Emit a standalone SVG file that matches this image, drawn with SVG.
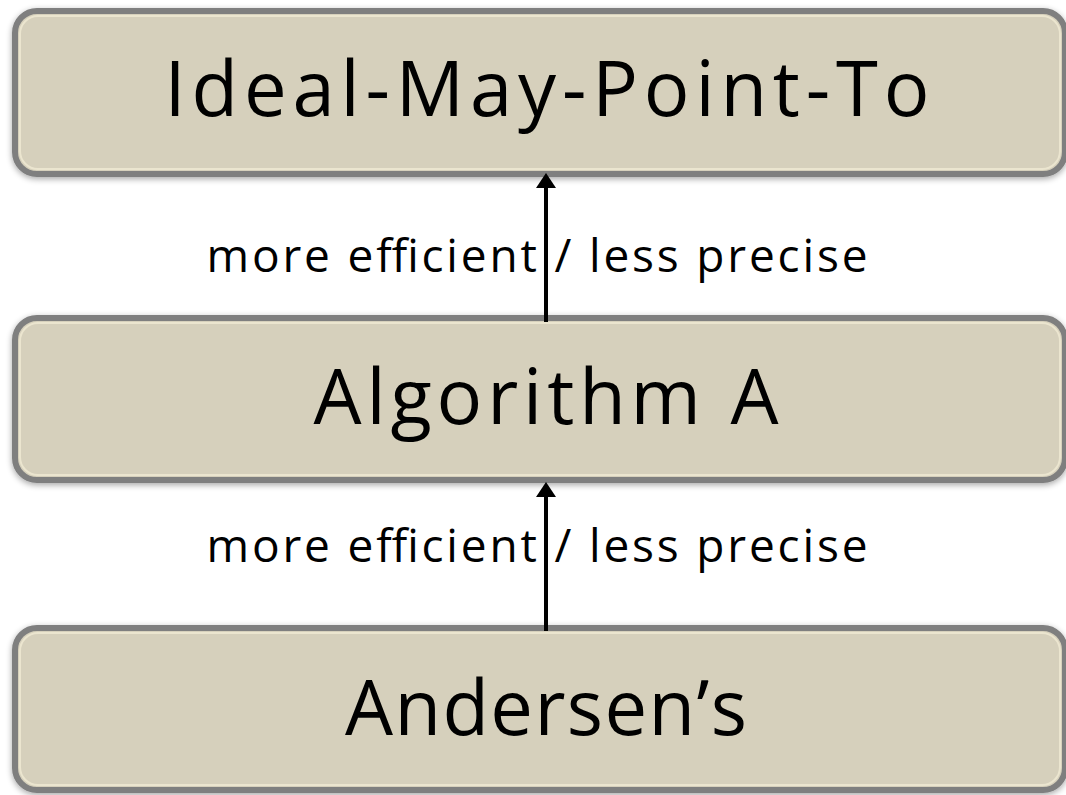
<svg xmlns="http://www.w3.org/2000/svg" width="1066" height="795" viewBox="0 0 1066 795">
<defs>
<style>
.box{fill:#d6d0bc;stroke:#7f7f7f;stroke-width:6}
.hl{fill:none;stroke:#ebe5cf;stroke-width:2}
.t{font-family:"Open Sans","Liberation Sans",sans-serif;fill:#000;text-anchor:middle}
.big{font-size:76px}
.lbl{font-size:46px}
.edge{stroke:#000;stroke-width:4;fill:none}
</style>
<filter id="sh" x="-5%" y="-20%" width="110%" height="140%">
<feGaussianBlur in="SourceAlpha" stdDeviation="3"/>
<feOffset dx="0" dy="2" result="b"/>
<feComponentTransfer><feFuncA type="linear" slope="0.35"/></feComponentTransfer>
<feMerge><feMergeNode/><feMergeNode in="SourceGraphic"/></feMerge>
</filter>
</defs>
<rect width="1066" height="795" fill="#fff"/>
<g id="node-ideal" filter="url(#sh)">
<rect class="box" x="15" y="11" width="1050" height="163" rx="22"/>
<rect class="hl" x="20" y="16" width="1040" height="153" rx="18"/>
<text class="t big" x="547" y="116" textLength="765">Ideal-May-Point-To</text>
</g>
<g id="node-algoA" filter="url(#sh)">
<rect class="box" x="15" y="318" width="1050" height="162" rx="22"/>
<rect class="hl" x="20" y="323" width="1040" height="152" rx="18"/>
<text class="t big" x="546" y="424" textLength="465">Algorithm A</text>
</g>
<g id="node-andersen" filter="url(#sh)">
<rect class="box" x="15" y="628" width="1050" height="162" rx="22"/>
<rect class="hl" x="20" y="633" width="1040" height="152" rx="18"/>
<text class="t big" x="546" y="735" textLength="402">Andersen’s</text>
</g>
<g id="connectors">
<line class="edge" x1="546" y1="322" x2="546" y2="188"/>
<path d="M536,188 L546,173 L556,188 Z" fill="#000"/>
<line class="edge" x1="546" y1="631" x2="546" y2="497"/>
<path d="M536,497 L546,482 L556,497 Z" fill="#000"/>
<text class="t lbl" x="537" y="272" textLength="661">more efficient / less precise</text>
<text class="t lbl" x="537" y="562" textLength="661">more efficient / less precise</text>
</g>
</svg>
